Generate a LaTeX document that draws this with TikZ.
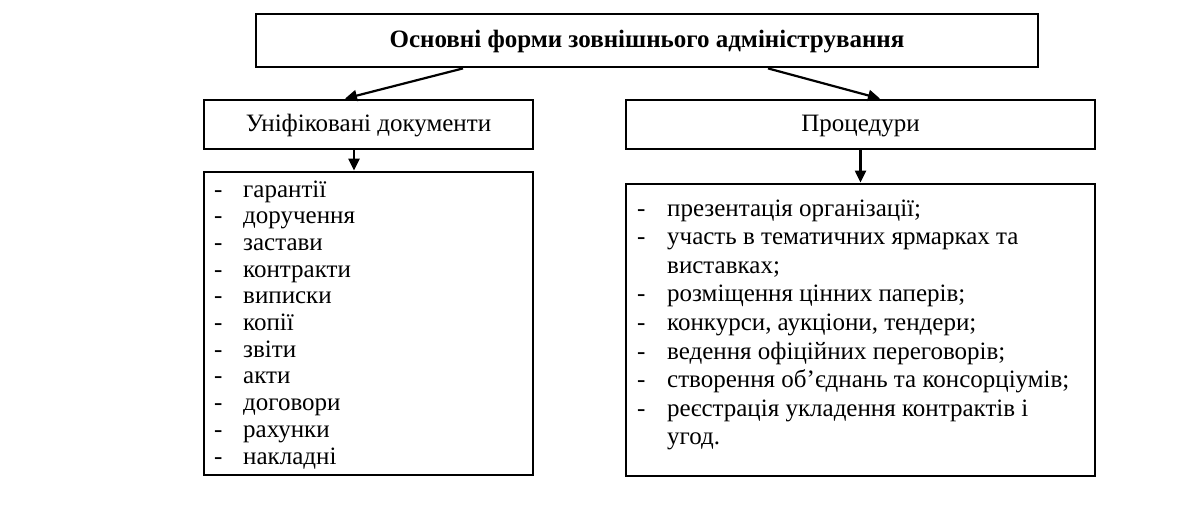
\documentclass[tikz,border=0pt]{standalone}
\usepackage{fontspec}
\setmainfont{Liberation Serif}
\usetikzlibrary{arrows.meta}
\begin{document}
\begin{tikzpicture}[x=1pt,y=-1pt,
  box/.style={draw=black, line width=2.8pt, inner sep=0pt, fill=white},
  arr/.style={line width=2.2pt, -{Triangle[length=12pt,width=11pt]}},
  itemtext/.style={anchor=base west, inner sep=0pt, font=\fontsize{25}{27}\selectfont},
  lbl/.style={font=\fontsize{25}{27}\selectfont}]
\useasboundingbox (0,0) rectangle (1191,507);
\fill[white] (0,0) rectangle (1191,507);

\node[box, minimum width=782pt, minimum height=53pt] (top) at (647,40.5) {};
\node[lbl, font=\fontsize{25}{27}\selectfont\bfseries] (toptxt) at (647,42) {Основні форми зовнішнього адміністрування};

\node[box, minimum width=329pt, minimum height=49pt] (lb1) at (368.5,124.5) {};
\node[lbl] (lb1txt) at (368.5,126) {Уніфіковані документи};

\node[box, minimum width=469pt, minimum height=49pt] (rb1) at (860.5,124.5) {};
\node[lbl] (rb1txt) at (860.5,126) {Процедури};

\node[box, minimum width=329pt, minimum height=303pt] (lb2) at (368.5,323.5) {};
\node[box, minimum width=469pt, minimum height=292pt] (rb2) at (860.5,330) {};

\draw[arr] ([xshift=-184pt]top.south) -- ([xshift=-23.5pt]lb1.north);
\draw[arr] ([xshift=121pt]top.south) -- ([xshift=19.5pt]rb1.north);
\draw[arr] ([xshift=-14.5pt]lb1.south) -- ([xshift=-14.5pt]lb2.north);
\draw[arr] (rb1.south) -- (rb2.north);

% left list
\foreach \t [count=\i from 0] in {гарантії,доручення,застави,контракти,виписки,копії,звіти,акти,договори,рахунки,накладні}{
  \node[itemtext] (ld\i) at (214,{197+26.7*\i}) {-};
  \node[itemtext] (lt\i) at (243,{197+26.7*\i}) {\t};
}

% right list
\foreach \d/\t [count=\i from 0] in {-/презентація організації;,-/участь в тематичних ярмарках та,{}/виставках;,-/розміщення цінних паперів;,-/{конкурси, аукціони, тендери;},-/ведення офіційних переговорів;,-/створення об’єднань та консорціумів;,-/реєстрація укладення контрактів і,{}/угод.}{
  \node[itemtext] (rd\i) at (637,{216+28.6*\i}) {\d};
  \node[itemtext] (rt\i) at (667,{216+28.6*\i}) {\t};
}
\end{tikzpicture}
\end{document}
